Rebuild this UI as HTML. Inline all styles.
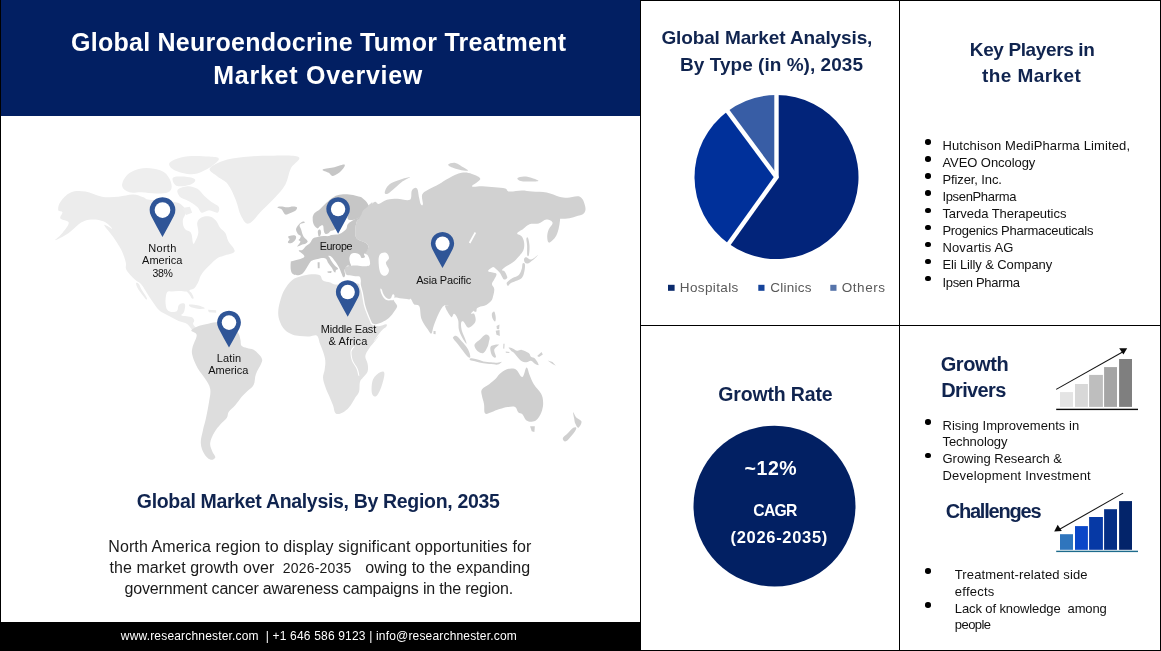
<!DOCTYPE html>
<html lang="en">
<head>
<meta charset="utf-8">
<title>Global Neuroendocrine Tumor Treatment Market Overview</title>
<style>
html,body{margin:0;padding:0;background:#fff;}
body{width:1161px;height:651px;position:relative;overflow:hidden;font-family:'Liberation Sans',sans-serif;}
header,footer,section,h1,h2,p,ul,li{display:block;position:static;margin:0;padding:0;border:0;font:inherit;list-style:none;}
.t{position:absolute;display:block;white-space:pre;line-height:1;margin:0;padding:0;}
.abs{position:absolute;}
.hdr{left:0;top:0;width:640px;height:116px;background:#021f62;}
.ftr{left:0;top:622px;width:641px;height:29px;background:#000;}
.ln{background:#000;position:absolute;}
.dot{position:absolute;width:5.6px;height:5.6px;border-radius:50%;background:#000;}
svg{position:absolute;left:0;top:0;}
</style>
</head>
<body>
<div class="abs hdr"></div>
<div class="abs ftr"></div>
<!-- frame lines -->
<div class="ln" style="left:640px;top:0;width:521px;height:1px"></div>
<div class="ln" style="left:0;top:650px;width:1161px;height:1px"></div>
<div class="ln" style="left:0;top:0;width:1px;height:651px"></div>
<div class="ln" style="left:1160px;top:0;width:1px;height:651px"></div>
<div class="ln" style="left:640px;top:0;width:1px;height:651px"></div>
<div class="ln" style="left:899px;top:0;width:1px;height:651px"></div>
<div class="ln" style="left:640px;top:325px;width:521px;height:1px"></div>

<svg width="1161" height="651" viewBox="0 0 1161 651">
<g id="worldmap">
<path d="M70.7 192.5 C75.2 190.6 79.7 190.7 85.3 191.5 C90.9 192.3 95.9 195.8 101.9 196.7 C107.9 197.6 112.9 197.1 118.5 196.7 C124.1 196.3 128.5 194.5 133.0 194.6 C137.5 194.7 140.3 196.4 143.3 197.3 C146.3 198.2 144.0 199.0 149.6 199.8 C155.2 200.6 168.5 200.8 174.5 201.9 C180.5 203.0 180.7 204.1 182.8 206.0 C184.9 207.9 185.9 209.6 185.9 212.2 C185.9 214.8 183.0 217.5 182.8 220.5 C182.6 223.5 183.3 226.6 184.8 228.8 C186.3 231.1 189.5 230.4 191.0 233.0 C192.5 235.6 192.3 241.8 193.1 243.3 C193.9 244.8 194.3 243.2 195.2 241.3 C196.1 239.4 197.9 236.4 198.3 233.0 C198.7 229.6 196.7 225.4 197.3 222.6 C197.9 219.8 199.2 218.5 201.4 217.4 C203.6 216.3 207.1 215.8 209.7 216.4 C212.3 217.0 214.0 218.4 215.9 220.5 C217.8 222.6 218.4 225.6 220.1 227.8 C221.8 230.1 223.8 230.6 225.3 233.0 C226.8 235.4 226.7 238.0 228.4 241.3 C230.1 244.6 235.4 249.0 234.6 251.6 C233.8 254.2 226.8 254.5 223.7 255.7 C220.6 256.9 219.8 256.6 217.6 258.0 C215.4 259.4 213.6 261.3 211.4 263.4 C209.2 265.5 207.2 267.3 205.3 269.5 C203.4 271.7 201.9 273.5 200.7 275.7 C199.5 277.9 199.5 279.6 198.4 281.8 C197.3 284.0 196.1 286.5 194.5 288.0 C192.9 289.5 189.9 289.5 189.4 290.4 C188.9 291.3 190.7 291.7 191.5 293.1 C192.3 294.5 193.6 297.0 193.7 298.0 C193.8 299.0 192.7 299.0 192.0 298.5 C191.3 298.0 190.8 296.5 189.9 295.3 C189.0 294.1 188.2 292.7 187.2 292.0 C186.2 291.3 186.1 291.7 184.5 291.5 C182.9 291.3 180.4 291.0 178.1 291.0 C175.8 291.0 173.5 291.3 171.6 291.5 C169.7 291.7 168.4 290.8 167.3 292.0 C166.2 293.2 166.0 295.8 165.7 298.0 C165.4 300.2 165.4 302.3 165.7 304.4 C166.0 306.5 166.2 308.4 167.3 309.8 C168.4 311.2 169.9 311.7 171.6 311.9 C173.3 312.1 175.7 312.1 177.0 310.9 C178.3 309.7 177.6 306.9 178.6 305.5 C179.6 304.1 181.2 303.4 182.4 303.3 C183.6 303.2 184.8 303.4 185.1 304.9 C185.4 306.4 184.7 310.0 184.0 311.9 C183.3 313.8 180.8 314.4 181.3 315.2 C181.8 316.0 184.8 315.8 186.7 316.2 C188.6 316.6 190.7 316.5 192.0 317.3 C193.3 318.1 194.0 319.3 194.2 320.5 C194.4 321.7 192.9 322.6 193.1 323.8 C193.3 325.0 194.3 326.1 195.3 327.0 C196.3 327.9 197.6 328.0 198.5 328.6 C199.4 329.2 199.9 329.5 200.1 330.2 C200.3 330.9 200.3 331.8 199.6 332.4 C198.9 333.0 197.5 333.7 196.3 333.4 C195.1 333.1 194.3 332.0 193.1 330.8 C191.9 329.6 191.1 328.3 189.9 327.0 C188.7 325.7 188.4 324.8 186.7 323.8 C185.0 322.8 182.5 322.6 180.2 321.6 C177.9 320.6 176.5 319.8 173.8 318.4 C171.1 317.0 167.9 315.6 165.2 314.1 C162.5 312.6 161.0 312.1 158.7 309.8 C156.4 307.5 154.4 304.2 152.3 301.2 C150.2 298.2 148.6 295.8 146.9 293.1 C145.2 290.4 143.9 287.9 142.6 286.1 C141.3 284.3 141.2 284.1 139.9 282.9 C138.6 281.7 137.5 282.0 135.1 279.7 C132.7 277.4 128.2 273.2 126.5 270.0 C124.8 266.8 126.7 265.6 125.7 261.9 C124.7 258.2 123.3 254.0 121.1 249.6 C118.9 245.2 116.4 241.7 113.4 237.3 C110.4 232.9 104.4 226.5 104.2 225.0 C104.0 223.5 112.3 229.4 112.2 228.8 C112.1 228.2 107.6 223.3 103.9 221.6 C100.2 219.9 95.6 219.3 91.5 219.5 C87.4 219.7 85.2 220.2 81.1 222.6 C77.0 225.0 73.4 229.8 68.7 233.0 C64.0 236.2 56.3 240.2 55.2 240.2 C54.1 240.2 60.0 236.2 62.4 233.0 C64.8 229.8 69.1 225.2 68.7 222.6 C68.3 220.0 61.5 220.4 60.4 218.5 C59.3 216.6 62.8 213.7 62.4 212.2 C62.0 210.7 58.7 212.1 58.3 210.2 C57.9 208.3 58.2 205.1 60.4 201.9 C62.6 198.7 66.2 194.4 70.7 192.5Z" fill="#ececec"/>
<path d="M169.3 163.3 C170.2 161.3 173.6 159.7 177.7 158.4 C181.8 157.1 186.5 156.3 192.2 156.0 C197.9 155.7 204.3 156.2 209.1 156.6 C213.9 157.0 217.8 157.0 218.7 158.4 C219.6 159.8 216.5 162.3 213.9 164.5 C211.3 166.7 207.7 168.8 204.2 170.5 C200.7 172.2 198.5 173.7 194.6 174.1 C190.7 174.5 186.4 173.8 182.5 172.9 C178.6 172.0 175.3 171.0 172.9 169.3 C170.5 167.6 168.4 165.3 169.3 163.3Z" fill="#eeeeee"/>
<path d="M122.2 186.2 C121.6 183.4 123.7 179.3 125.9 176.5 C128.1 173.7 130.6 172.0 134.3 170.5 C138.0 169.0 141.6 168.1 146.4 168.1 C151.2 168.1 156.9 169.0 160.8 170.5 C164.7 172.0 166.1 173.7 168.1 176.5 C170.1 179.3 171.7 183.4 171.7 186.2 C171.7 189.0 170.9 190.9 168.1 192.2 C165.3 193.5 160.8 193.4 156.0 193.4 C151.2 193.4 146.3 192.4 141.5 192.2 C136.7 192.0 133.0 193.3 129.5 192.2 C126.0 191.1 122.8 189.0 122.2 186.2Z" fill="#eeeeee"/>
<path d="M172.9 177.7 C174.2 176.2 178.6 176.3 182.5 176.5 C186.4 176.7 192.9 177.6 194.6 178.9 C196.3 180.2 194.4 182.5 192.2 183.8 C190.0 185.1 185.5 186.0 182.5 186.2 C179.5 186.4 177.0 186.5 175.3 185.0 C173.6 183.5 171.6 179.2 172.9 177.7Z" fill="#eeeeee"/>
<path d="M177.7 189.8 C179.0 187.9 183.9 186.4 187.4 186.2 C190.9 186.0 194.0 186.9 197.0 188.6 C200.0 190.3 201.6 193.4 204.2 195.8 C206.8 198.2 208.9 199.9 211.5 201.9 C214.1 203.9 217.6 204.8 218.7 206.7 C219.8 208.6 219.2 212.1 217.5 212.7 C215.8 213.3 211.9 210.3 209.1 210.3 C206.3 210.3 204.0 213.3 201.8 212.7 C199.6 212.1 199.6 208.9 197.0 206.7 C194.4 204.5 190.4 202.3 187.4 200.6 C184.4 198.9 181.8 198.9 180.1 197.0 C178.4 195.1 176.4 191.7 177.7 189.8Z" fill="#eeeeee"/>
<path d="M182.5 207.9 L189.8 206.7 L192.2 212.7 L186.1 215.1Z" fill="#eeeeee"/>
<path d="M209.7 168.7 C210.7 165.9 216.7 163.0 222.8 160.9 C228.9 158.8 235.2 157.9 243.7 157.0 C252.2 156.1 259.9 155.7 269.8 155.7 C279.7 155.7 294.7 154.7 298.5 157.0 C302.3 159.3 293.1 163.8 290.7 168.7 C288.3 173.6 288.2 179.2 285.4 184.4 C282.6 189.6 279.2 192.7 275.0 197.4 C270.8 202.1 266.6 205.8 261.9 210.5 C257.2 215.2 252.7 222.7 248.9 223.6 C245.1 224.5 243.4 219.9 241.0 215.7 C238.6 211.5 238.1 205.7 235.8 200.1 C233.5 194.5 231.3 188.6 228.0 184.4 C224.7 180.2 220.8 179.4 217.5 176.6 C214.2 173.8 208.7 171.5 209.7 168.7Z" fill="#ececec"/>
<path d="M136.1 282.9 C136.4 282.3 137.8 282.8 138.8 284.0 C139.8 285.2 140.3 287.4 141.5 289.4 C142.7 291.4 144.3 293.6 145.3 295.3 C146.3 297.0 147.0 298.1 147.1 298.8 C147.2 299.5 146.5 299.7 145.8 299.2 C145.1 298.7 144.2 297.2 143.1 295.8 C142.0 294.4 141.0 293.0 139.9 291.5 C138.8 290.0 137.9 288.7 137.2 287.2 C136.5 285.7 135.8 283.5 136.1 282.9Z" fill="#ececec"/>
<path d="M189.2 304.6 C190.3 304.2 194.7 304.6 197.5 305.2 C200.3 305.8 204.4 307.4 204.8 308.1 C205.2 308.8 202.0 309.1 199.6 309.0 C197.2 308.9 193.2 308.1 191.3 307.3 C189.4 306.5 188.1 305.0 189.2 304.6Z" fill="#ececec"/>
<path d="M207.9 309.8 L216.2 310.2 L216.2 312.7 L208.9 312.3Z" fill="#ececec"/>
<path d="M191.3 330.5 C191.4 329.0 194.9 327.5 197.5 326.4 C200.1 325.3 202.4 325.1 205.8 324.3 C209.2 323.5 212.5 322.2 216.2 322.2 C219.9 322.2 223.2 323.2 226.5 324.3 C229.8 325.4 232.6 326.8 234.8 328.5 C237.0 330.2 237.8 331.9 238.8 334 C239.8 336.1 240.0 337.9 240.5 340 C241.0 342.1 240.3 344.3 241.5 345.7 C242.7 347.1 244.9 347.3 247 348 C249.1 348.7 251.2 348.6 253.2 349.6 C255.2 350.6 256.4 351.8 258 353.5 C259.6 355.2 261.5 357.0 262.0 358.9 C262.5 360.8 262.1 361.2 261.0 364.0 C259.9 366.8 257.1 370.7 255.8 374.4 C254.5 378.1 255.2 381.8 253.7 384.8 C252.2 387.8 249.7 388.8 247.5 391.0 C245.3 393.2 243.6 394.6 241.3 397.2 C239.1 399.8 237.2 402.9 235.0 405.5 C232.8 408.1 230.3 409.4 228.8 411.7 C227.3 413.9 228.2 415.8 226.7 418.0 C225.2 420.2 222.7 421.6 220.5 424.2 C218.3 426.8 216.2 429.1 214.3 432.5 C212.4 435.9 210.6 439.5 210.2 442.9 C209.8 446.3 211.3 448.6 212.2 451.2 C213.1 453.8 215.7 455.9 215.3 457.4 C214.9 458.9 212.3 460.3 210.2 459.5 C208.1 458.7 205.6 456.2 203.9 453.2 C202.2 450.2 201.0 447.0 200.8 442.9 C200.6 438.8 202.0 434.9 202.9 430.4 C203.8 425.9 204.9 423.2 206.0 418.0 C207.1 412.8 208.3 406.6 209.1 401.4 C209.9 396.2 210.9 393.0 210.2 388.9 C209.5 384.8 207.2 382.3 205.0 378.6 C202.8 374.9 199.9 372.3 197.7 368.2 C195.4 364.1 193.4 359.4 192.5 355.7 C191.6 352.0 191.7 351.1 192.5 347.4 C193.3 343.7 196.9 338.0 196.7 335.0 C196.5 332.0 191.2 332.0 191.3 330.5Z" fill="#dddddd"/>
<path d="M373.0 379.6 C374.5 375.9 378.1 373.4 380.2 372.3 C382.3 371.2 384.2 370.8 384.4 373.4 C384.6 376.0 382.8 382.8 381.3 386.9 C379.8 391.0 377.8 395.1 376.1 396.2 C374.4 397.3 372.5 396.1 371.9 393.1 C371.3 390.1 371.5 383.3 373.0 379.6Z" fill="#e1e1e1"/>
<path d="M284.5 329.6 C282.2 327.0 280.4 323.3 279.3 319.9 C278.2 316.5 278.1 314.0 278.3 310.5 C278.5 307.0 279.3 303.9 280.4 300.2 C281.5 296.5 282.4 293.4 284.5 289.8 C286.6 286.2 288.8 282.8 291.8 280.4 C294.8 278.0 297.6 277.4 301.1 276.3 C304.6 275.2 308.1 274.4 311.5 274.2 C314.9 274.0 317.7 274.2 319.8 275.3 C321.9 276.4 321.0 279.1 322.9 280.4 C324.8 281.7 327.8 281.7 330.2 282.5 C332.6 283.3 332.3 284.4 336.4 284.6 C340.5 284.8 348.9 283.7 353.0 283.6 C357.1 283.5 358.1 283.7 359.2 284.0 C360.3 284.3 358.9 283.4 359.3 285 C359.7 286.6 360.9 289.7 361.6 293 C362.3 296.3 362.6 299.9 363.4 303.4 C364.2 306.9 365.2 309.5 366.3 312.6 C367.4 315.7 368.7 318.5 369.7 320.7 C370.7 322.9 370.3 323.8 372 324.8 C373.7 325.8 376.5 326.3 379 326.2 C381.5 326.1 384.7 324.2 386 324.3 C387.3 324.4 387.3 325.2 386.4 326.5 C385.5 327.8 383.3 328.6 381 331.3 C378.7 334.0 373.9 341.0 373.7 341.6 C373.5 342.2 379.6 334.7 379.9 334.6 C380.2 334.5 377.2 338.3 375.3 340.8 C373.4 343.3 370.9 345.6 369.1 348.4 C367.3 351.2 365.6 353.3 365.3 356.1 C365.0 358.9 367.2 361.0 367.6 363.8 C368.0 366.6 368.4 369.0 367.6 371.5 C366.8 374.0 364.4 375.7 363.0 377.6 C361.6 379.5 360.6 379.7 359.9 382.2 C359.2 384.7 359.9 388.6 359.1 391.4 C358.3 394.2 356.8 395.1 355.3 397.6 C353.8 400.1 352.6 402.8 350.7 405.3 C348.8 407.8 347.1 409.9 344.5 411.4 C341.9 412.9 338.2 414.8 336.1 413.7 C334.0 412.6 334.2 408.5 333.0 405.3 C331.8 402.1 330.6 399.4 329.2 396.1 C327.8 392.8 326.4 390.1 325.3 386.8 C324.2 383.5 323.1 380.6 323.0 377.6 C322.9 374.6 324.2 372.9 324.6 369.9 C325.0 366.9 325.6 364.0 325.3 360.7 C325.0 357.4 324.0 354.5 323.0 351.5 C322.0 348.5 321.1 346.6 320.0 343.8 C318.9 341.0 318.8 337.1 316.9 335.8 C315.0 334.5 312.2 336.4 309.2 336.5 C306.2 336.6 303.0 336.4 300.0 336.1 C297.0 335.8 295.1 335.8 292.3 334.6 C289.5 333.4 286.8 332.2 284.5 329.6Z" fill="#e1e1e1"/>
<path d="M354.5 346.9 C354.3 347.4 353.1 348.4 352.6 349.5 C352.1 350.6 351.4 351.0 351.5 353 C351.6 355.0 351.9 357.9 353 360.7 C354.1 363.5 356.5 365.8 357.6 368.4 C358.7 371.0 359.2 374.1 359.3 375.3 C359.4 376.5 358.8 376.4 358.3 375.3 C357.8 374.2 357.7 371.6 356.6 369 C355.5 366.4 353.1 363.9 352 361 C350.9 358.1 350.6 355.2 350.5 353 C350.4 350.8 351.0 350.2 351.6 349 C352.2 347.8 353.2 346.9 353.7 346.5 C354.2 346.1 354.7 346.4 354.5 346.9Z" fill="#ffffff"/>
<path d="M360.0 218.5 C357.8 219.4 358.9 210.0 360.0 208.1 C361.1 206.2 363.6 209.2 366.2 208.1 C368.8 207.0 372.2 202.7 374.5 201.9 C376.8 201.1 376.4 204.3 378.7 203.9 C380.9 203.5 383.7 200.7 387.0 199.8 C390.3 198.9 393.2 198.7 397.3 198.7 C401.4 198.7 407.2 201.3 409.8 199.8 C412.4 198.3 410.6 192.5 411.9 190.4 C413.2 188.3 415.7 187.1 417.0 188.4 C418.3 189.7 418.4 194.8 419.1 197.7 C419.8 200.6 420.1 203.1 420.8 204.3 C421.5 205.5 422.6 206.0 422.9 204.3 C423.2 202.6 421.2 197.3 422.2 194.6 C423.2 191.9 425.5 191.3 428.5 189.4 C431.5 187.5 435.1 186.3 438.8 184.2 C442.5 182.1 445.1 180.1 449.2 178.0 C453.3 175.9 457.5 173.5 461.6 172.8 C465.7 172.1 468.6 172.8 472.0 173.9 C475.4 175.0 480.3 176.8 480.3 179.0 C480.3 181.2 471.6 185.0 472.0 186.3 C472.4 187.6 478.3 186.1 482.4 186.3 C486.5 186.5 490.7 186.9 494.8 187.3 C498.9 187.7 502.6 187.6 505.2 188.4 C507.8 189.2 506.3 191.1 509.3 191.5 C512.3 191.9 517.7 190.4 521.8 190.4 C525.9 190.4 527.7 191.1 532.2 191.5 C536.7 191.9 541.9 191.6 546.7 192.5 C551.5 193.4 555.4 195.8 559.1 196.7 C562.8 197.6 563.7 197.7 567.4 197.7 C571.1 197.7 576.7 195.2 579.9 196.7 C583.1 198.2 584.4 203.0 585.1 206.0 C585.8 209.0 585.7 211.4 584.0 213.3 C582.3 215.2 578.7 215.5 575.7 216.4 C572.7 217.3 570.4 218.1 567.4 218.5 C564.4 218.9 560.4 218.9 559.1 218.5 C557.8 218.1 560.1 215.5 560.2 216.5 C560.3 217.5 560.0 221.2 559.5 224.2 C559.0 227.2 558.3 230.6 557.2 233.4 C556.1 236.2 554.8 237.9 553.3 239.6 C551.8 241.3 549.8 243.2 548.7 242.6 C547.6 242.0 547.2 238.8 547.2 236.5 C547.2 234.2 547.7 232.1 548.7 229.6 C549.7 227.1 553.0 224.5 552.6 222.7 C552.2 220.9 548.9 219.5 546.4 219.6 C543.9 219.7 541.7 222.6 538.7 223.4 C535.7 224.2 532.3 223.2 529.5 224.2 C526.7 225.2 525.6 227.1 523.4 228.8 C521.2 230.5 517.5 232.0 517.2 233.4 C516.9 234.8 520.6 234.8 521.8 236.5 C523.0 238.2 523.8 240.1 524.1 242.6 C524.4 245.1 524.4 247.8 523.4 250.3 C522.4 252.8 520.7 254.3 518.8 256.5 C516.9 258.7 515.1 260.7 512.6 262.6 C510.1 264.5 506.8 265.8 504.9 267.2 C503.0 268.6 502.0 269.6 501.9 270.3 C501.8 271.0 503.4 270.3 504.2 271.1 C505.0 271.9 506.0 273.7 506.5 274.9 C507.0 276.1 507.6 277.2 507.2 278.0 C506.8 278.8 505.2 279.8 504.2 279.5 C503.2 279.2 502.7 277.6 501.9 276.4 C501.1 275.2 500.7 274.0 499.6 272.6 C498.5 271.2 497.0 269.8 495.7 268.8 C494.4 267.8 494.0 266.8 492.6 267.2 C491.2 267.6 488.0 270.1 488.0 271.1 C488.0 272.1 491.1 272.1 492.6 272.6 C494.1 273.1 496.2 272.9 496.5 274.1 C496.8 275.3 495.0 277.7 494.2 279.5 C493.4 281.3 491.9 282.4 491.9 284.1 C491.9 285.8 493.9 286.8 494.2 288.7 C494.5 290.6 494.0 292.7 493.4 294.9 C492.8 297.1 492.6 299.1 491.1 301.0 C489.6 302.9 487.2 304.5 485.0 305.6 C482.8 306.7 481.3 305.8 478.8 307.2 C476.3 308.6 471.9 312.1 471.1 313.3 C470.3 314.5 473.4 312.6 474.2 313.8 C475.0 315.0 475.8 318.1 475.7 320.0 C475.6 321.9 474.8 323.2 473.4 324.6 C472.0 326.0 469.8 328.2 468.0 327.6 C466.2 327.0 464.6 322.3 463.4 321.5 C462.2 320.7 461.4 321.3 461.1 323.0 C460.8 324.7 461.2 327.9 461.9 330.7 C462.6 333.5 464.2 336.0 465.0 338.4 C465.8 340.8 467.1 344.1 466.5 343.8 C465.9 343.5 463.3 339.5 461.9 336.9 C460.5 334.3 459.5 332.2 458.8 329.2 C458.1 326.2 458.9 322.8 458.1 320.0 C457.3 317.2 455.5 314.4 454.2 313.8 C452.9 313.2 452.8 318.3 451.1 316.9 C449.4 315.5 445.1 308.0 445.0 306.1 C444.9 304.2 450.6 306.6 450.5 306.5 C450.4 306.4 446.4 304.3 444.3 305.4 C442.2 306.5 441.0 309.1 439.1 312.7 C437.2 316.3 435.3 321.5 433.9 325.2 C432.5 328.9 432.5 332.8 431.4 333.5 C430.3 334.2 429.5 331.9 427.7 329.3 C425.9 326.7 423.0 323.0 421.5 318.9 C420.0 314.8 420.7 309.1 419.4 306.5 C418.1 303.9 415.7 305.7 414.2 304.4 C412.7 303.1 412.0 300.1 411.1 299.2 C410.2 298.3 410.3 299.5 409.1 299.4 C407.9 299.3 406.2 299.0 404.5 298.8 C402.8 298.6 401.6 298.4 399.9 298.2 C398.2 298.0 396.4 297.3 395.3 297.6 C394.2 297.9 393.4 298.6 393.6 299.9 C393.8 301.2 395.9 303.3 396.5 304.6 C397.1 305.9 397.4 305.7 397 306.9 C396.6 308.1 395.5 309.6 394.2 311.5 C392.9 313.4 391.5 315.4 389.6 317.2 C387.7 319.0 386.1 320.1 383.8 321.3 C381.5 322.5 378.9 323.7 376.9 324.1 C374.9 324.5 373.8 324.2 372.8 323.6 C371.8 323.0 372.0 322.7 371.1 320.7 C370.2 318.7 368.8 315.7 367.7 312.6 C366.6 309.5 365.6 306.9 364.8 303.4 C364.0 299.9 363.7 296.3 363 293 C362.3 289.7 361.3 287.3 360.9 285 C360.5 282.7 361.1 281.6 360.8 280.1 C360.5 278.6 360.5 277.3 359.5 276.6 C358.5 275.9 357.0 276.4 355.3 276.2 C353.6 276.0 351.4 275.6 349.8 275.3 C348.2 275.0 347.2 275.6 346.3 274.6 C345.4 273.6 345.0 271.1 344.9 269.7 C344.8 268.3 345.1 267.6 345.6 267 C346.1 266.4 346.0 266.6 347.7 266.3 C349.4 266.0 352.7 265.6 355.3 265.6 C357.9 265.6 359.7 266.3 362.2 266.3 C364.7 266.3 367.7 266.6 369.1 265.6 C370.5 264.6 370.1 262.6 369.8 260.7 C369.5 258.8 368.6 256.6 367.7 255.2 C366.8 253.8 364.9 254.5 365 253.1 C365.1 251.7 368.1 249.4 368.3 247.6 C368.5 245.8 368.1 244.7 366.0 243.0 C363.9 241.3 358.7 240.6 356.8 238.4 C354.9 236.2 355.3 233.7 355.3 230.7 C355.3 227.7 356.0 224.0 356.8 221.5 C357.6 219.0 358.8 218.8 359.9 216.9 C361.0 215.0 361.4 212.8 362.9 210.7 C364.4 208.6 366.6 206.7 368.3 205.3 C370.0 203.9 373.7 200.6 372.2 203.0 C370.7 205.4 362.2 217.6 360.0 218.5Z" fill="#d1d1d1"/>
<path d="M379.7 254.8 C381.0 252.7 384.2 252.1 385.9 252.7 C387.6 253.3 389.0 256.0 389.0 257.9 C389.0 259.8 385.9 260.8 385.9 263.0 C385.9 265.2 389.0 268.1 389.0 270.3 C389.0 272.6 387.4 274.9 385.9 275.5 C384.4 276.1 382.0 275.5 380.7 273.4 C379.4 271.3 378.9 267.4 378.7 264.1 C378.5 260.8 378.4 256.9 379.7 254.8Z" fill="#ffffff"/>
<path d="M380.3 289.4 C380.2 288.4 381.0 288.4 381.6 289.2 C382.2 290.0 382.5 292.4 383.4 294 C384.3 295.6 385.3 297.2 386.6 298 C387.9 298.8 389.3 299.2 390.4 298.6 C391.5 298.0 391.9 295.0 392.6 294.4 C393.3 293.8 394.2 294.3 394.4 295.2 C394.6 296.1 394.5 298.7 393.9 299.6 C393.3 300.5 392.7 300.3 391.2 300.3 C389.7 300.3 387.5 300.7 385.8 299.7 C384.1 298.7 383.0 296.9 382 295 C381.0 293.1 380.4 290.4 380.3 289.4Z" fill="#ffffff"/>
<path d="M384.9 191.5 C385.6 189.6 386.6 185.8 391.1 183.2 C395.6 180.6 407.9 177.2 409.8 177.0 C411.7 176.8 404.5 180.0 401.5 182.2 C398.5 184.4 395.8 187.3 393.2 189.4 C390.6 191.5 388.5 193.6 387.0 194.0 C385.5 194.4 384.2 193.4 384.9 191.5Z" fill="#d1d1d1"/>
<path d="M448.2 164.5 C448.8 163.7 452.6 162.3 455.4 162.9 C458.2 163.5 461.4 166.2 463.7 167.6 C465.9 169.0 468.6 170.3 467.9 170.7 C467.2 171.1 462.4 170.3 459.6 169.7 C456.8 169.1 454.4 168.5 452.3 167.6 C450.2 166.7 447.6 165.3 448.2 164.5Z" fill="#d1d1d1"/>
<path d="M517.6 178.0 C518.5 177.2 522.2 176.1 525.9 176.6 C529.6 177.1 537.6 179.8 538.4 180.7 C539.2 181.6 533.3 181.4 530.1 181.5 C526.9 181.6 523.0 181.7 520.8 181.1 C518.5 180.5 516.7 178.8 517.6 178.0Z" fill="#d1d1d1"/>
<path d="M433.5 331.0 L435.6 331.0 L435.6 334.3 L433.5 333.9Z" fill="#d1d1d1"/>
<path d="M526.4 238.8 C526.6 237.4 527.4 236.8 528.0 238.0 C528.6 239.2 529.3 242.7 529.5 245.7 C529.7 248.7 529.3 253.2 528.9 254.9 C528.5 256.6 527.5 256.6 527.2 254.9 C526.9 253.2 527.2 248.6 527.1 245.7 C527.0 242.8 526.2 240.2 526.4 238.8Z" fill="#d1d1d1"/>
<path d="M524.1 258.8 C524.4 257.8 525.1 257.1 526.4 257.2 C527.7 257.3 529.0 259.9 531.1 259.5 C533.2 259.1 537.7 254.8 538.0 254.9 C538.3 255.0 534.4 258.8 532.6 260.3 C530.8 261.8 529.4 263.0 528.0 263.4 C526.6 263.8 525.6 263.4 524.9 262.6 C524.2 261.8 523.8 259.8 524.1 258.8Z" fill="#d1d1d1"/>
<path d="M522.6 263.4 C523.2 262.6 524.6 262.7 524.9 264.2 C525.2 265.7 524.9 269.3 524.3 271.8 C523.7 274.3 523.3 276.3 521.8 278.0 C520.3 279.7 517.8 280.1 515.7 281.1 C513.6 282.1 511.7 282.5 510.3 283.4 C508.9 284.3 508.6 286.1 508.0 286.0 C507.4 285.9 506.1 284.0 506.9 282.6 C507.7 281.2 510.5 279.4 512.6 278.0 C514.7 276.6 517.1 276.6 518.8 274.9 C520.5 273.2 521.1 270.9 521.8 268.8 C522.5 266.7 522.0 264.2 522.6 263.4Z" fill="#d1d1d1"/>
<path d="M474.2 307.2 L476.5 306.9 L476.2 311.8 L474.2 311.5Z" fill="#d1d1d1"/>
<path d="M468.8 242.6 L474.7 231.9 L476.1 233.1 L470.4 243.6Z" fill="#ffffff"/>
<path d="M453.4 336.9 C454.0 336.4 455.0 335.3 456.5 336.1 C458.0 336.9 459.8 339.1 461.9 341.5 C464.0 343.9 466.5 346.4 468.0 349.2 C469.5 352.0 470.3 355.4 470.3 356.8 C470.3 358.2 469.2 358.1 468.0 357.1 C466.8 356.1 465.2 353.8 463.4 351.5 C461.6 349.2 459.9 346.8 458.1 344.5 C456.3 342.2 454.2 340.1 453.4 338.7 C452.6 337.3 452.8 337.4 453.4 336.9Z" fill="#d1d1d1"/>
<path d="M470.3 358.4 C471.3 358.2 473.3 358.6 475.7 359.1 C478.1 359.6 480.6 360.8 483.4 361.4 C486.2 362.0 488.6 362.0 491.1 362.2 C493.6 362.4 495.3 362.8 497.2 362.7 C499.1 362.6 501.7 361.5 501.8 361.8 C501.9 362.1 499.9 364.1 498.0 364.5 C496.1 364.9 493.7 364.3 491.1 364.1 C488.5 363.9 486.2 363.8 483.4 363.3 C480.6 362.8 478.1 362.0 475.7 361.4 C473.3 360.8 471.3 360.7 470.3 360.2 C469.3 359.7 469.3 358.6 470.3 358.4Z" fill="#d1d1d1"/>
<path d="M475.0 343.8 C476.0 342.3 478.4 340.9 480.3 339.2 C482.2 337.5 484.0 335.0 485.7 334.6 C487.4 334.2 488.9 335.5 489.5 336.9 C490.1 338.3 489.2 340.3 488.8 342.2 C488.4 344.1 488.2 345.7 487.2 347.6 C486.2 349.5 485.1 352.3 483.4 353.0 C481.7 353.7 479.5 352.5 478.0 351.5 C476.5 350.5 475.5 349.0 475.0 347.6 C474.5 346.2 474.0 345.3 475.0 343.8Z" fill="#d1d1d1"/>
<path d="M491.1 346.1 C492.5 344.7 498.0 344.2 498.8 344.5 C499.6 344.8 496.5 346.5 495.7 347.6 C494.9 348.7 494.1 349.0 494.2 350.7 C494.3 352.4 496.1 355.6 496.0 356.8 C495.9 358.0 494.3 357.9 493.4 357.1 C492.5 356.3 491.2 354.2 490.8 352.2 C490.4 350.2 489.7 347.5 491.1 346.1Z" fill="#d1d1d1"/>
<path d="M491.9 313.8 C492.2 312.6 493.5 310.9 494.2 311.5 C494.9 312.1 495.5 315.1 495.7 316.9 C495.9 318.7 495.7 321.2 495.1 321.5 C494.5 321.8 493.2 319.8 492.6 318.4 C492.0 317.0 491.6 315.0 491.9 313.8Z" fill="#d1d1d1"/>
<path d="M496.5 326.1 L499.5 324.6 L499.1 329.2 L496.9 328.9Z" fill="#d1d1d1"/>
<path d="M495.7 330.7 L499.5 330.0 L499.8 336.1 L496.5 334.7Z" fill="#d1d1d1"/>
<path d="M473.6 308.0 L476.5 307.7 L476.2 311.4 L473.7 311.1Z" fill="#d1d1d1"/>
<path d="M508.7 347.6 C509.0 347.2 511.1 347.8 512.6 348.4 C514.1 349.0 515.5 350.4 517.2 350.7 C518.9 351.0 519.7 349.5 521.8 349.9 C523.9 350.3 527.0 351.8 528.7 353.0 C530.4 354.2 529.9 355.8 531.0 356.8 C532.1 357.8 533.5 357.0 534.9 358.4 C536.3 359.8 538.7 363.8 538.7 364.8 C538.7 365.8 536.3 364.4 534.9 363.7 C533.5 363.0 532.5 361.0 531.0 360.7 C529.5 360.4 528.2 362.2 526.4 362.2 C524.6 362.2 522.7 361.7 521.0 360.7 C519.3 359.7 518.4 358.2 517.2 356.8 C516.0 355.4 515.2 354.1 514.1 353.0 C513.0 351.9 512.1 351.7 511.1 350.7 C510.1 349.7 508.4 348.0 508.7 347.6Z" fill="#d1d1d1"/>
<path d="M537.2 356.1 L541.5 351.9 L542.8 354.5 L539.0 357.1Z" fill="#d1d1d1"/>
<path d="M547.6 360.4 L552.5 361.9 L555.9 365.7 L552.5 363.9Z" fill="#d1d1d1"/>
<path d="M503.4 343.8 L504.6 343.8 L504.3 348.8 L503.2 348.5Z" fill="#d1d1d1"/>
<path d="M505.7 351.5 L509.5 351.9 L509.2 353.1 L505.8 352.8Z" fill="#d1d1d1"/>
<path d="M481.9 389.4 C483.2 387.3 486.8 386.1 489.2 384.2 C491.6 382.3 493.5 380.9 495.4 379.0 C497.3 377.1 497.7 375.6 499.6 373.9 C501.5 372.2 503.9 370.6 505.8 369.7 C507.7 368.8 508.0 368.7 509.9 368.7 C511.8 368.7 514.0 368.2 516.2 369.7 C518.5 371.2 520.5 377.4 522.4 377.0 C524.3 376.6 525.2 368.0 526.5 367.6 C527.8 367.2 528.3 371.9 529.6 374.9 C530.9 377.9 531.7 380.8 533.8 384.2 C535.9 387.6 539.3 390.4 541.0 393.6 C542.7 396.8 542.9 398.9 543.1 401.9 C543.3 404.9 543.0 407.2 542.1 410.2 C541.2 413.2 539.6 416.4 537.9 418.5 C536.2 420.6 534.9 421.2 532.8 421.6 C530.7 422.0 528.4 421.8 526.5 420.5 C524.6 419.2 523.9 415.8 522.4 414.3 C520.9 412.8 519.5 413.5 518.2 412.2 C516.9 410.9 517.0 407.9 515.1 407.0 C513.2 406.1 510.7 406.6 507.9 407.0 C505.1 407.4 502.6 408.2 499.6 409.1 C496.6 410.0 493.9 411.4 491.3 412.2 C488.7 413.0 486.3 414.8 485.0 413.3 C483.7 411.8 484.6 407.1 484.0 403.9 C483.4 400.7 482.3 398.2 481.9 395.6 C481.5 393.0 480.6 391.5 481.9 389.4Z" fill="#cfcfcf"/>
<path d="M530.1 426.3 L534.8 426.3 L534.4 431.9 L531.7 431.3Z" fill="#cfcfcf"/>
<path d="M573.2 412.2 C573.6 412.0 574.8 415.7 576.3 417.4 C577.8 419.1 581.1 419.7 581.5 421.6 C581.9 423.5 579.5 427.4 578.4 427.8 C577.3 428.2 576.1 425.3 575.3 423.6 C574.5 421.9 574.6 420.6 574.2 418.5 C573.8 416.4 572.8 412.4 573.2 412.2Z" fill="#cfcfcf"/>
<path d="M576.3 428.4 C576.1 429.7 574.1 432.7 572.2 435.0 C570.3 437.3 567.6 440.7 565.9 441.3 C564.2 441.9 562.4 439.7 562.8 438.2 C563.2 436.7 566.1 434.9 568.0 433.0 C569.9 431.1 571.7 428.6 573.2 427.8 C574.7 427.0 576.5 427.1 576.3 428.4Z" fill="#cfcfcf"/>
<path d="M302.3 250 C303.6 249.2 304.7 247.4 306.1 246.1 C307.5 244.8 308.8 244.4 310 243 C311.2 241.6 311.6 239.5 313 238.4 C314.4 237.3 315.8 237.3 317.7 236.9 C319.6 236.5 321.9 236.2 323.8 236.1 C325.7 236.0 327.0 236.3 328.4 236.1 C329.8 235.9 330.1 235.3 331.5 235 C332.9 234.7 334.6 234.8 336.1 234.6 C337.6 234.4 338.2 234.8 340 233.8 C341.8 232.8 344.7 230.9 346.1 229.2 C347.5 227.5 346.5 226.0 347.6 224.5 C348.7 223.0 350.0 221.9 352.2 220.7 C354.4 219.5 359.1 217.5 359.9 217.6 C360.7 217.7 357.6 219.1 356.8 221.5 C356.0 223.9 355.3 227.7 355.3 230.7 C355.3 233.7 354.9 236.2 356.8 238.4 C358.7 240.6 363.9 241.3 366 243 C368.1 244.7 368.3 245.9 368.3 247.6 C368.3 249.3 366.8 251.3 366 252.5 C365.2 253.7 364.1 253.4 363.9 254.2 C363.7 255.0 365.3 256.2 364.9 256.9 C364.5 257.6 362.7 258.4 361.7 258 C360.7 257.6 360.8 255.6 359.6 254.7 C358.4 253.8 356.8 253.2 355.3 253.1 C353.8 253.0 352.1 253.3 351 254.2 C349.9 255.1 349.6 256.5 349.4 258 C349.2 259.5 349.6 260.9 349.9 262.3 C350.2 263.7 351.0 264.8 351 265.5 C351.0 266.2 350.5 266.0 349.9 266 C349.3 266.0 348.5 265.2 347.7 265.5 C346.9 265.8 346.2 266.6 345.6 267.6 C345.0 268.6 344.6 269.5 344.5 270.9 C344.4 272.3 345.3 274.0 345.1 275.2 C344.9 276.4 344.1 277.7 343.4 277.3 C342.7 276.9 342.1 274.7 341.3 273 C340.5 271.3 340.1 269.5 339.1 267.6 C338.1 265.7 337.2 264.2 335.9 262.3 C334.5 260.4 333.0 258.1 331.6 256.9 C330.2 255.7 328.8 255.7 328.4 255.8 C328.0 255.9 328.9 256.4 329.5 257.4 C330.1 258.4 330.6 259.7 331.6 261.2 C332.6 262.7 333.6 264.1 334.8 265.5 C336.0 266.9 337.9 267.8 338.1 268.7 C338.3 269.6 336.4 269.6 335.9 270.3 C335.4 271.0 335.8 272.3 335.4 272.5 C335.0 272.7 334.5 272.3 333.8 271.4 C333.1 270.5 332.6 269.1 331.6 267.6 C330.6 266.1 329.4 264.8 328.4 263.3 C327.4 261.8 327.2 260.0 326.2 259 C325.2 258.0 324.5 258.0 323 258 C321.5 258.0 319.3 258.6 317.6 259 C315.9 259.4 314.7 259.5 313.3 260.1 C311.9 260.7 311.3 260.9 310.1 262.3 C308.9 263.7 308.2 265.7 306.9 267.6 C305.6 269.5 304.6 271.6 303.1 273 C301.6 274.4 300.1 275.0 298.3 275.2 C296.5 275.4 294.2 275.1 292.9 274.1 C291.5 273.1 291.2 271.9 290.8 269.8 C290.4 267.7 290.6 263.8 290.8 262.3 C291.0 260.8 289.4 262.2 291.8 261.2 C294.2 260.2 302.9 258.8 304.2 256.9 C305.5 255.0 299.1 252.0 298.8 250.8 C298.5 249.6 301.0 250.8 302.3 250Z" fill="#c6c6c6"/>
<path d="M327.3 271.4 L331.6 270.9 L331.1 273 L327.8 272.8Z" fill="#c6c6c6"/>
<path d="M317.6 262.3 L319.6 262.3 L319.6 268.2 L317.8 268.2Z" fill="#c6c6c6"/>
<path d="M313 216.1 C313.3 215.3 313.4 214.2 314.6 213 C315.8 211.8 317.8 211.0 319.9 209.2 C322.0 207.4 323.6 205.2 326.1 203 C328.6 200.8 331.0 198.4 333.8 196.9 C336.6 195.4 338.6 195.0 341.4 194.6 C344.2 194.2 346.3 194.3 349.1 194.6 C351.9 194.9 354.3 195.4 356.8 196.1 C359.3 196.8 360.8 196.7 362.9 198.4 C365.0 200.1 368.3 203.1 368.3 205.3 C368.3 207.5 364.5 208.6 363 210.7 C361.5 212.8 361.8 215.2 359.9 216.9 C358.0 218.6 354.4 219.6 352.2 219.9 C350.0 220.2 348.2 220.1 347.6 218.4 C347.0 216.7 349.7 212.4 349.1 210.7 C348.5 209.0 345.9 208.4 344.5 209.2 C343.1 210.0 342.2 212.8 341.4 215.3 C340.6 217.8 341.0 220.5 339.9 223 C338.8 225.5 337.0 227.8 335.3 229.2 C333.6 230.6 331.9 230.3 330.7 231 C329.5 231.7 329.4 232.8 328.4 233.3 C327.4 233.8 326.1 234.3 325.3 233.8 C324.5 233.3 324.2 232.2 323.8 230.7 C323.4 229.2 323.7 226.4 323 225.6 C322.3 224.8 321.0 225.8 320 226.3 C319.0 226.8 318.7 228.4 317.7 228.4 C316.7 228.4 315.4 227.2 314.6 226.1 C313.8 225.0 313.3 223.8 313 222.3 C312.7 220.8 312.7 218.8 312.7 217.7 C312.7 216.6 312.7 216.9 313 216.1Z" fill="#c6c6c6"/>
<path d="M303.8 221.5 C304.5 221.5 305.2 222.3 304.6 222.7 C304.0 223.1 301.6 223.2 300.7 223.8 C299.8 224.4 299.6 225.3 299.6 226.1 C299.6 226.9 300.4 227.6 300.7 228.4 C301.0 229.2 301.2 229.7 301.5 230.7 C301.8 231.7 301.9 232.7 302.3 233.8 C302.7 234.9 303.1 235.9 303.8 236.9 C304.5 237.9 305.4 238.4 306.1 239.2 C306.8 240.0 307.8 240.7 307.7 241.5 C307.6 242.3 306.4 243.2 305.4 243.8 C304.4 244.4 303.4 244.2 302.3 244.6 C301.2 245.0 300.1 245.8 299.2 246.1 C298.3 246.4 297.3 246.9 297.3 246.5 C297.3 246.1 298.6 244.7 299.2 243.8 C299.8 242.9 300.5 242.2 300.4 241.5 C300.3 240.8 298.7 240.6 298.6 240 C298.5 239.4 299.6 239.1 300 238.4 C300.4 237.7 301.0 236.8 300.7 236.1 C300.4 235.4 299.1 235.3 298.4 234.6 C297.7 233.9 297.3 233.1 296.9 232.3 C296.5 231.5 296.2 230.8 296.1 230 C296.0 229.2 296.0 228.7 296.5 227.7 C297.0 226.7 298.0 225.5 298.8 224.6 C299.6 223.7 299.8 223.3 300.7 222.7 C301.6 222.1 303.1 221.5 303.8 221.5Z" fill="#c6c6c6"/>
<path d="M288.8 236.1 C289.5 235.7 291.1 235.5 292.3 235.4 C293.5 235.3 294.7 235.3 295.4 235.7 C296.1 236.1 296.2 236.8 296.1 237.7 C296.0 238.6 295.4 239.7 294.6 240.7 C293.8 241.7 292.6 242.6 291.5 243 C290.4 243.4 289.0 243.3 288.4 243 C287.8 242.7 287.9 242.2 288.1 241.5 C288.3 240.8 289.5 239.9 289.6 239.2 C289.7 238.5 288.5 238.3 288.4 237.7 C288.3 237.1 288.1 236.5 288.8 236.1Z" fill="#c6c6c6"/>
<path d="M277.7 206.9 C278.4 206.6 280.6 206.4 282.3 206.5 C284.0 206.6 285.0 207.3 286.9 207.3 C288.8 207.3 291.3 206.5 293.1 206.5 C294.9 206.5 296.4 206.7 296.9 207.3 C297.4 207.9 296.9 209.1 296.1 210 C295.3 210.9 293.8 211.5 292.3 212.3 C290.8 213.1 288.9 213.8 287.7 214.2 C286.5 214.6 286.1 214.9 285.4 214.6 C284.7 214.3 284.5 213.7 283.8 212.7 C283.1 211.7 282.5 210.0 281.5 209.2 C280.5 208.4 279.2 208.5 278.5 208.1 C277.8 207.7 277.0 207.2 277.7 206.9Z" fill="#c6c6c6"/>
<path d="M318 230.7 C318.4 229.9 319.4 229.3 320 229.6 C320.6 229.9 321.0 231.3 321.1 232.3 C321.2 233.3 320.7 234.6 320.3 235.4 C319.9 236.2 319.2 236.8 318.8 236.5 C318.4 236.2 318.1 234.8 318 233.8 C317.9 232.8 317.6 231.5 318 230.7Z" fill="#c6c6c6"/>
<path d="M322.6 169.7 C323.4 168.8 329.1 168.5 333.0 167.6 C336.9 166.7 342.9 163.9 344.4 164.5 C345.9 165.1 343.4 168.6 341.3 170.7 C339.2 172.8 335.2 175.5 333.0 175.9 C330.8 176.3 330.7 173.9 328.8 172.8 C326.9 171.7 321.8 170.6 322.6 169.7Z" fill="#c6c6c6"/>
</g>
<!-- pins -->
<defs>
<g id="pin"><path d="M0 0.3 Q-5.6 -9.6 -10.4 -18.9 A11.8 11.8 0 1 1 10.4 -18.9 Q5.6 -9.6 0 0.3 Z" fill="#2f5597"/><circle cx="0" cy="-24.45" r="7.2" fill="#fff"/></g>
</defs>
<use href="#pin" transform="translate(162.5,236.7) scale(1.09)"/>
<use href="#pin" transform="translate(229,347.3) scale(1.01)"/>
<use href="#pin" transform="translate(338.1,233.5)"/>
<use href="#pin" transform="translate(442.5,267.7) scale(0.985)"/>
<use href="#pin" transform="translate(347.7,316.5)"/>
<!-- pie -->
<g transform="translate(776.5,177.1)">
<path d="M0 0 L0 -82 A82 82 0 1 1 -47.73 66.67 Z" fill="#02247a"/>
<path d="M0 0 L-47.73 66.67 A82 82 0 0 1 -48.89 -65.83 Z" fill="#00309a"/>
<path d="M0 0 L-48.89 -65.83 A82 82 0 0 1 0 -82 Z" fill="#385da5"/>
<g stroke="#fff" stroke-width="4.4" stroke-linecap="butt">
<line x1="0" y1="1" x2="0" y2="-84"/>
<line x1="0" y1="0" x2="-48.90" y2="68.30"/>
<line x1="0" y1="0" x2="-50.08" y2="-67.44"/>
</g>
<circle r="2.2" fill="#fff"/>
</g>
<!-- legend squares -->
<rect x="668" y="284.8" width="6.6" height="6" fill="#0a2a6c"/>
<rect x="758.3" y="284.8" width="6.2" height="6" fill="#15439a"/>
<rect x="830.3" y="284.8" width="6.2" height="6" fill="#5674aa"/>

<!-- growth circle -->
<ellipse cx="774.5" cy="506.05" rx="81" ry="80.4" fill="#022063"/>

<!-- grey bars -->
<rect x="1060" y="392.1" width="13" height="14.8" fill="#e4e4e4"/>
<rect x="1075" y="384" width="12.9" height="22.9" fill="#d8d8d8"/>
<rect x="1089.1" y="374.9" width="13.8" height="32" fill="#bebebe"/>
<rect x="1104.1" y="367.1" width="12.9" height="39.8" fill="#a5a5a5"/>
<rect x="1119.1" y="359" width="12.9" height="47.9" fill="#7f7f7f"/>
<rect x="1056.2" y="408.7" width="81.8" height="1.4" fill="#0a0a0a"/>
<line x1="1056.2" y1="389.4" x2="1122.6" y2="352" stroke="#141414" stroke-width="1.05"/>
<path d="M1119.2 348.2 L1127.2 348.2 L1123.4 354.6 Z" fill="#0a0a0a"/>

<!-- blue bars -->
<rect x="1060" y="534.2" width="13" height="15.6" fill="#2f75bd"/>
<rect x="1075" y="526.1" width="12.9" height="23.7" fill="#0a46c8"/>
<rect x="1089.1" y="517" width="13.8" height="32.8" fill="#0639a5"/>
<rect x="1104.1" y="509.2" width="12.9" height="40.6" fill="#042e85"/>
<rect x="1119.1" y="501.1" width="12.9" height="48.7" fill="#03246a"/>
<rect x="1056.2" y="550.7" width="81.8" height="1.4" fill="#1d6b8c"/>
<line x1="1123.1" y1="493.1" x2="1059.6" y2="529.3" stroke="#141414" stroke-width="1.05"/>
<path d="M1054.2 531.4 L1057.7 524.7 L1061.8 530.9 Z" fill="#0a0a0a"/>
</svg>

<!-- bullets -->
<div class="dot" style="left:925.4px;top:139.1px"></div>
<div class="dot" style="left:925.4px;top:156.2px"></div>
<div class="dot" style="left:925.4px;top:173.3px"></div>
<div class="dot" style="left:925.4px;top:190.4px"></div>
<div class="dot" style="left:925.4px;top:207.5px"></div>
<div class="dot" style="left:925.4px;top:224.6px"></div>
<div class="dot" style="left:925.4px;top:241.7px"></div>
<div class="dot" style="left:925.4px;top:258.8px"></div>
<div class="dot" style="left:925.4px;top:275.9px"></div>
<div class="dot" style="left:925px;top:419px"></div>
<div class="dot" style="left:925px;top:452.6px"></div>
<div class="dot" style="left:925.2px;top:568.2px"></div>
<div class="dot" style="left:925.2px;top:602.2px"></div>

<header><h1>
<span class="t" style="left:71.0px;top:29.70px;font-size:25px;font-weight:700;color:#fff;letter-spacing:0.258px">Global Neuroendocrine Tumor Treatment</span>
<span class="t" style="left:213.3px;top:62.50px;font-size:25px;font-weight:700;color:#fff;letter-spacing:0.734px">Market Overview</span>
</h1></header>
<section><h2>
<span class="t" style="left:661.4px;top:27.90px;font-size:19px;font-weight:700;color:#10244f;letter-spacing:-0.121px">Global Market Analysis,</span>
<span class="t" style="left:680.0px;top:54.80px;font-size:19px;font-weight:700;color:#10244f;letter-spacing:0.035px">By Type (in %), 2035</span>
</h2>
<ul>
<li>
<span class="t" style="left:679.8px;top:281.30px;font-size:13.5px;font-weight:400;color:#595959;letter-spacing:0.371px">Hospitals</span>
</li>
<li>
<span class="t" style="left:770.3px;top:281.30px;font-size:13.5px;font-weight:400;color:#595959;letter-spacing:0.239px">Clinics</span>
</li>
<li>
<span class="t" style="left:841.7px;top:281.30px;font-size:13.5px;font-weight:400;color:#595959;letter-spacing:0.577px">Others</span>
</li>
</ul></section>
<section><h2>
<span class="t" style="left:969.8px;top:40.00px;font-size:19px;font-weight:700;color:#10244f;letter-spacing:-0.379px">Key Players in</span>
<span class="t" style="left:981.9px;top:66.40px;font-size:19px;font-weight:700;color:#10244f;letter-spacing:0.441px">the Market</span>
</h2><ul>
<li>
<span class="t" style="left:942.4px;top:138.80px;font-size:13px;font-weight:400;color:#111;letter-spacing:0.123px">Hutchison MediPharma Limited,</span>
</li>
<li>
<span class="t" style="left:942.4px;top:155.89px;font-size:13px;font-weight:400;color:#111;letter-spacing:-0.059px">AVEO Oncology</span>
</li>
<li>
<span class="t" style="left:942.4px;top:172.98px;font-size:13px;font-weight:400;color:#111;letter-spacing:-0.1px">Pfizer, Inc.</span>
</li>
<li>
<span class="t" style="left:942.4px;top:190.07px;font-size:13px;font-weight:400;color:#111;letter-spacing:-0.333px">IpsenPharma</span>
</li>
<li>
<span class="t" style="left:942.4px;top:207.16px;font-size:13px;font-weight:400;color:#111;letter-spacing:-0.041px">Tarveda Therapeutics</span>
</li>
<li>
<span class="t" style="left:942.4px;top:224.25px;font-size:13px;font-weight:400;color:#111;letter-spacing:-0.272px">Progenics Pharmaceuticals</span>
</li>
<li>
<span class="t" style="left:942.4px;top:241.34px;font-size:13px;font-weight:400;color:#111;letter-spacing:0.164px">Novartis AG</span>
</li>
<li>
<span class="t" style="left:942.4px;top:258.43px;font-size:13px;font-weight:400;color:#111;letter-spacing:-0.122px">Eli Lilly &amp; Company</span>
</li>
<li>
<span class="t" style="left:942.4px;top:275.52px;font-size:13px;font-weight:400;color:#111;letter-spacing:-0.303px">Ipsen Pharma</span>
</li>
</ul></section>
<section><h2>
<span class="t" style="left:718.2px;top:384.70px;font-size:19.5px;font-weight:700;color:#10244f;letter-spacing:-0.144px">Growth Rate</span>
</h2><p>
<span class="t" style="left:744.6px;top:458.50px;font-size:19.5px;font-weight:700;color:#fff;letter-spacing:0.526px">~12%</span>
<span class="t" style="left:753.3px;top:502.60px;font-size:15.7px;font-weight:700;color:#fff;letter-spacing:-0.734px">CAGR</span>
<span class="t" style="left:730.5px;top:528.70px;font-size:16.5px;font-weight:700;color:#fff;letter-spacing:0.689px">(2026-2035)</span>
</p></section>
<section><h2>
<span class="t" style="left:940.7px;top:354.40px;font-size:20px;font-weight:700;color:#10244f;letter-spacing:-0.4px">Growth</span>
<span class="t" style="left:941.3px;top:380.20px;font-size:20px;font-weight:700;color:#10244f;letter-spacing:-0.656px">Drivers</span>
</h2><ul><li>
<span class="t" style="left:942.5px;top:418.70px;font-size:13px;font-weight:400;color:#111;letter-spacing:0.042px">Rising Improvements in</span>
<span class="t" style="left:942.5px;top:435.10px;font-size:13px;font-weight:400;color:#111;letter-spacing:-0.087px">Technology</span>
</li><li>
<span class="t" style="left:942.5px;top:452.40px;font-size:13px;font-weight:400;color:#111;letter-spacing:-0.027px">Growing Research &amp;</span>
<span class="t" style="left:942.5px;top:469.10px;font-size:13px;font-weight:400;color:#111;letter-spacing:0.21px">Development Investment</span>
</li></ul></section>
<section><h2>
<span class="t" style="left:945.7px;top:500.50px;font-size:20px;font-weight:700;color:#10244f;letter-spacing:-1.2px">Challenges</span>
</h2><ul><li>
<span class="t" style="left:954.8px;top:567.90px;font-size:13px;font-weight:400;color:#111;letter-spacing:0.114px">Treatment-related side</span>
<span class="t" style="left:954.8px;top:584.60px;font-size:13px;font-weight:400;color:#111;letter-spacing:0.24px">effects</span>
</li><li>
<span class="t" style="left:954.8px;top:601.90px;font-size:13px;font-weight:400;color:#111;letter-spacing:-0.115px">Lack of knowledge  among</span>
<span class="t" style="left:954.8px;top:618.00px;font-size:13px;font-weight:400;color:#111;letter-spacing:-0.549px">people</span>
</li></ul></section>
<section><h2>
<span class="t" style="left:136.8px;top:492.40px;font-size:19.5px;font-weight:700;color:#10244f;letter-spacing:-0.324px">Global Market Analysis, By Region, 2035</span>
</h2><p>
<span class="t" style="left:108.3px;top:539.00px;font-size:16px;font-weight:400;color:#1a1a1a;letter-spacing:0.098px">North America region to display significant opportunities for</span>
<span class="t" style="left:109.5px;top:559.90px;font-size:16px;font-weight:400;color:#1a1a1a;letter-spacing:0.056px">the market growth over</span>
<span class="t" style="left:282.7px;top:560.90px;font-size:14px;font-weight:400;color:#1a1a1a;letter-spacing:0.206px">2026-2035</span>
<span class="t" style="left:365.3px;top:559.90px;font-size:16px;font-weight:400;color:#1a1a1a;letter-spacing:0.015px">owing to the expanding</span>
<span class="t" style="left:124.6px;top:580.70px;font-size:16px;font-weight:400;color:#1a1a1a;letter-spacing:-0.178px">government cancer awareness campaigns in the region.</span>
</p></section>
<footer>
<span class="t" style="left:120.8px;top:629.90px;font-size:12px;font-weight:400;color:#fff;letter-spacing:0.177px">www.researchnester.com  | +1 646 586 9123 | info@researchnester.com</span>
</footer>
<section><ul><li>
<span class="t" style="left:148.3px;top:243.00px;font-size:11px;font-weight:400;color:#111;letter-spacing:0.273px">North</span>
<span class="t" style="left:142.1px;top:254.90px;font-size:11px;font-weight:400;color:#111;letter-spacing:-0.024px">America</span>
<span class="t" style="left:152.5px;top:267.70px;font-size:10.5px;font-weight:400;color:#111;letter-spacing:-0.308px">38%</span>
</li><li>
<span class="t" style="left:216.7px;top:352.80px;font-size:11px;font-weight:400;color:#111;letter-spacing:0.16px">Latin</span>
<span class="t" style="left:208.2px;top:364.60px;font-size:11px;font-weight:400;color:#111;letter-spacing:-0.024px">America</span>
</li><li>
<span class="t" style="left:319.7px;top:240.70px;font-size:10.7px;font-weight:400;color:#111;letter-spacing:-0.334px">Europe</span>
</li><li>
<span class="t" style="left:416.2px;top:274.70px;font-size:11px;font-weight:400;color:#111;letter-spacing:-0.169px">Asia Pacific</span>
</li><li>
<span class="t" style="left:320.8px;top:323.50px;font-size:11px;font-weight:400;color:#111;letter-spacing:-0.208px">Middle East</span>
<span class="t" style="left:328.4px;top:335.60px;font-size:11px;font-weight:400;color:#111;letter-spacing:0.156px">&amp; Africa</span>
</li></ul></section>
</body>
</html>
